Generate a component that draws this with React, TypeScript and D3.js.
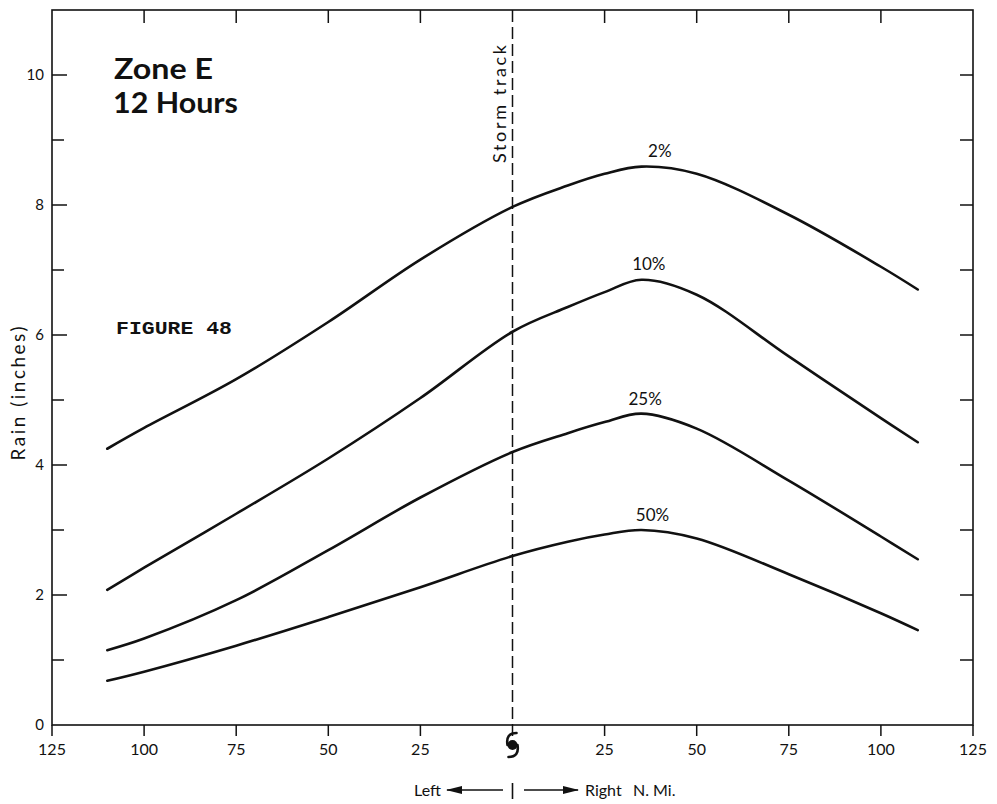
import React from "react";
import * as d3 from "d3";

// ---- data ----
const distances = [-110, -100, -75, -50, -25, 0, 15, 25, 35, 50, 75, 100, 110];
const rain2 = [4.25, 4.57, 5.32, 6.2, 7.16, 7.97, 8.3, 8.48, 8.59, 8.48, 7.85, 7.05, 6.7];
const rain10 = [2.08, 2.42, 3.25, 4.1, 5.03, 6.05, 6.43, 6.66, 6.85, 6.62, 5.67, 4.72, 4.35];
const rain25 = [1.15, 1.33, 1.92, 2.69, 3.5, 4.2, 4.49, 4.66, 4.79, 4.56, 3.76, 2.9, 2.55];
const rain50 = [0.68, 0.82, 1.22, 1.66, 2.12, 2.6, 2.82, 2.93, 3.0, 2.87, 2.32, 1.72, 1.46];
const seriesNames = ["2%", "10%", "25%", "50%"];
const seriesValues = [rain2, rain10, rain25, rain50];
const labelDist = [40, 37, 36, 38];
const labelPeak = [8.6, 6.86, 4.79, 3.0];

const xTicks = [-125, -100, -75, -50, -25, 0, 25, 50, 75, 100, 125];
const xTickLabels = ["125", "100", "75", "50", "25", "", "25", "50", "75", "100", "125"];
const yTicksAll = [1, 2, 3, 4, 5, 6, 7, 8, 9, 10];
const yTickLabels = ["0", "2", "4", "6", "8", "10"];
const yLabelValues = [0, 2, 4, 6, 8, 10];

const W = 997;
const H = 804;
const INK = "#111";
const SANS = "Lato, 'Open Sans', sans-serif";

export default function App() {
  const x = d3.scaleLinear().domain([-125, 125]).range([52, 973]);
  const y = d3.scaleLinear().domain([0, 11]).range([725, 10]);
  const line = d3
    .line<[number, number]>()
    .x((d) => x(d[0]))
    .y((d) => y(d[1]))
    .curve(d3.curveCatmullRom.alpha(0.5));

  const x0 = x(0);
  const symY = 745;

  return (
    <svg
      width={W}
      height={H}
      style={{ position: "absolute", left: 0, top: 0, background: "#fff" }}
      fontFamily={SANS}
    >
      <rect x={0} y={0} width={W} height={H} fill="#fff" />
      {/* frame */}
      <rect
        x={x(-125)}
        y={y(11)}
        width={x(125) - x(-125)}
        height={y(0) - y(11)}
        fill="none"
        stroke={INK}
        strokeWidth={1.6}
      />
      {/* left / right y ticks */}
      {yTicksAll.map((v) => (
        <g key={"yt" + v}>
          <line x1={x(-125)} x2={x(-125) + (v % 2 === 0 ? 15 : 12)} y1={y(v)} y2={y(v)} stroke={INK} strokeWidth={1.5} />
          <line x1={x(125)} x2={x(125) - 13} y1={y(v)} y2={y(v)} stroke={INK} strokeWidth={1.5} />
        </g>
      ))}
      {yLabelValues.map((v, i) => (
        <text key={"yl" + v} x={44} y={y(v)} dy="0.35em" textAnchor="end" fontSize={15} fill={INK}>
          {yTickLabels[i]}
        </text>
      ))}
      {/* x ticks: top inward, bottom outward */}
      {xTicks.map((v, i) => (
        <g key={"xt" + v}>
          {v !== -125 && v !== 125 && v !== 0 && (
            <line x1={x(v)} x2={x(v)} y1={y(11)} y2={y(11) + 13} stroke={INK} strokeWidth={1.5} />
          )}
          <line x1={x(v)} x2={x(v)} y1={y(0)} y2={y(0) + 11} stroke={INK} strokeWidth={1.5} />
          {xTickLabels[i] && (
            <text x={x(v)} y={755} textAnchor="middle" fontSize={16} fill={INK}>
              {xTickLabels[i]}
            </text>
          )}
        </g>
      ))}
      {/* storm track */}
      <line
        x1={x0}
        x2={x0}
        y1={y(11)}
        y2={y(0)}
        stroke={INK}
        strokeWidth={1.5}
        strokeDasharray="12,5"
      />
      <text
        transform={`translate(${x0 - 7},163) rotate(-90)`}
        fontSize={18}
        fill={INK}
        textLength={118}
        lengthAdjust="spacing"
      >
        Storm track
      </text>
      {/* storm symbol */}
      <g stroke={INK} strokeWidth={2.6} fill="none" strokeLinecap="round">
        <circle cx={x0} cy={symY} r={5} fill={INK} stroke="none" />
        <path d={`M${x0 + 4},${symY - 12} Q${x0 - 7},${symY - 12} ${x0 - 5},${symY}`} />
        <path d={`M${x0 - 4},${symY + 12} Q${x0 + 7},${symY + 12} ${x0 + 5},${symY}`} />
      </g>
      {/* curves */}
      {seriesValues.map((vals, i) => (
        <path
          key={"s" + i}
          d={line(distances.map((d, j) => [d, vals[j]] as [number, number])) || ""}
          fill="none"
          stroke={INK}
          strokeWidth={2.6}
          strokeLinecap="round"
          strokeLinejoin="round"
        />
      ))}
      {seriesNames.map((n, i) => (
        <text key={"lab" + n} x={x(labelDist[i])} y={y(labelPeak[i]) - 9} textAnchor="middle" fontSize={17} fill={INK}>
          {n}
        </text>
      ))}
      {/* titles */}
      <text x={114} y={79} fontSize={29} fontWeight={700} fill={INK} textLength={99} lengthAdjust="spacingAndGlyphs">
        Zone E
      </text>
      <text x={113} y={113} fontSize={29} fontWeight={700} fill={INK} textLength={125} lengthAdjust="spacingAndGlyphs">
        12 Hours
      </text>
      <text
        x={116}
        y={334}
        fontSize={19}
        fontWeight={700}
        fontFamily="'Liberation Mono', 'Courier New', monospace"
        fill={INK}
        textLength={116}
        lengthAdjust="spacingAndGlyphs"
      >
        FIGURE 48
      </text>
      {/* y axis title */}
      <text
        transform={`translate(25,${y(5.1)}) rotate(-90)`}
        textAnchor="middle"
        fontSize={19}
        fill={INK}
        textLength={134}
        lengthAdjust="spacing"
      >
        Rain (inches)
      </text>
      {/* bottom direction label */}
      <text x={441} y={796} textAnchor="end" fontSize={16} fill={INK}>
        Left
      </text>
      <line x1={447} x2={503} y1={790} y2={790} stroke={INK} strokeWidth={1.5} />
      <path d="M446,790 L462,786 L462,794 Z" fill={INK} />
      <line x1={x0} x2={x0} y1={783} y2={799} stroke={INK} strokeWidth={1.6} />
      <line x1={524} x2={578} y1={790} y2={790} stroke={INK} strokeWidth={1.5} />
      <path d="M579,790 L563,786 L563,794 Z" fill={INK} />
      <text x={585} y={796} fontSize={16} fill={INK}>
        Right
      </text>
      <text x={633} y={796} fontSize={16} fill={INK}>
        N. Mi.
      </text>
    </svg>
  );
}
